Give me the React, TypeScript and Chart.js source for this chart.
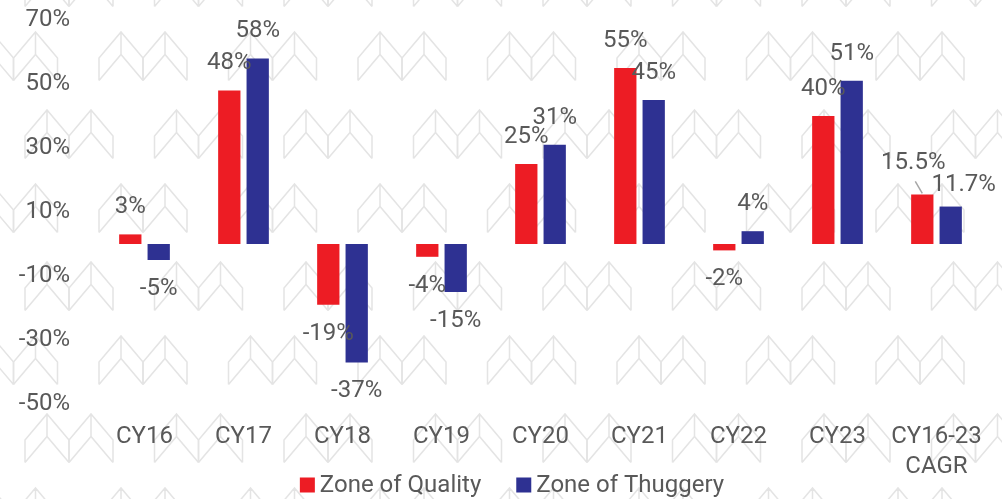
import React, { useEffect, useRef } from "react";
import { Chart, registerables } from "chart.js";

Chart.register(...registerables);

const categories: (string | string[])[] = ["CY16", "CY17", "CY18", "CY19", "CY20", "CY21", "CY22", "CY23", ["CY16-23", "CAGR"]];
const qualityValues = [3, 48, -19, -4, 25, 55, -2, 40, 15.5];
const thuggeryValues = [-5, 58, -37, -15, 31, 45, 4, 51, 11.7];
const qualityLabels = ["3%", "48%", "-19%", "-4%", "25%", "55%", "-2%", "40%", "15.5%"];
const thuggeryLabels = ["-5%", "58%", "-37%", "-15%", "31%", "45%", "4%", "51%", "11.7%"];
const seriesNames = ["Zone of Quality", "Zone of Thuggery"];
const yTicks = [-50, -30, -10, 10, 30, 50, 70];

const RED = "#ED1C24";
const BLUE = "#2E3192";
const TEXT = "#595959";
const FONT = "Roboto";

const watermarkPlugin = {
  id: "watermark",
  beforeDraw(chart: any) {
    const ctx = chart.ctx;
    const W = chart.width;
    const H = chart.height;
    ctx.save();
    ctx.fillStyle = "#ffffff";
    ctx.fillRect(0, 0, W, H);
    ctx.strokeStyle = "#e4e4e4";
    ctx.lineWidth = 1.5;
    const w = 22, h1 = 26, t = 22.5;
    const chevron = (px: number, py: number) => {
      ctx.beginPath();
      ctx.moveTo(px - w, py + h1 + t);
      ctx.lineTo(px - w, py + h1);
      ctx.lineTo(px, py);
      ctx.lineTo(px + w, py + h1);
      ctx.lineTo(px + w, py + h1 + t);
      ctx.moveTo(px - w, py + h1 + t);
      ctx.lineTo(px, py + t);
      ctx.lineTo(px + w, py + h1 + t);
      ctx.moveTo(px, py);
      ctx.lineTo(px, py + t);
      ctx.stroke();
    };
    const periodX = 129.5;
    const periodY = 152;
    for (let k = -1; k <= 4; k++) {
      const yB = 32 + periodY * k;
      const yA = 110 + periodY * k;
      for (let i = -1; i <= 8; i++) {
        const xB = 121 + periodX * i;
        chevron(xB, yB);
        chevron(xB + 44, yB);
        const xA = 47 + periodX * i;
        chevron(xA, yA);
        chevron(xA + 44, yA);
      }
    }
    ctx.restore();
  },
};

const labelPlugin = {
  id: "barLabels",
  afterDatasetsDraw(chart: any) {
    const ctx = chart.ctx;
    const labelSets = [qualityLabels, thuggeryLabels];
    const special: Record<string, { dx: number; dy: number }> = {
      "0-8": { dx: -9, dy: -31 },
      "1-8": { dx: 13, dy: -21.5 },
    };
    ctx.save();
    ctx.font = `24px ${FONT}`;
    ctx.fillStyle = TEXT;
    ctx.textAlign = "center";
    ctx.textBaseline = "middle";
    chart.data.datasets.forEach((ds: any, di: number) => {
      const meta = chart.getDatasetMeta(di);
      meta.data.forEach((bar: any, i: number) => {
        const v = ds.data[i];
        const sp = special[`${di}-${i}`];
        let x = bar.x;
        let y = v >= 0 ? bar.y - 27 : bar.y + 29;
        if (sp) {
          x = bar.x + sp.dx;
          y = bar.y + sp.dy;
        }
        ctx.fillText(labelSets[di][i], x, y);
        if (di === 0 && i === 8) {
          ctx.strokeStyle = "#a6a6a6";
          ctx.lineWidth = 1.5;
          ctx.beginPath();
          ctx.moveTo(bar.x - 7, bar.y - 13);
          ctx.lineTo(bar.x, bar.y - 1);
          ctx.stroke();
        }
      });
    });
    ctx.restore();
  },
};

const legendPlugin = {
  id: "customLegend",
  afterDraw(chart: any) {
    const ctx = chart.ctx;
    ctx.save();
    ctx.font = `24px ${FONT}`;
    ctx.textBaseline = "middle";
    ctx.textAlign = "left";
    const box = 15;
    const gapText = 5;
    const gapItem = 35;
    const items = chart.data.datasets.map((ds: any) => ({
      label: ds.label,
      color: ds.backgroundColor,
      tw: ctx.measureText(ds.label).width,
    }));
    const total = items.reduce((s: number, it: any) => s + box + gapText + it.tw, 0) + gapItem * (items.length - 1);
    let x = 512 - total / 2;
    const cy = 485;
    items.forEach((it: any) => {
      ctx.fillStyle = it.color;
      ctx.fillRect(x, cy - 7.5, box, box);
      ctx.fillStyle = TEXT;
      ctx.fillText(it.label, x + box + gapText, cy + 1);
      x += box + gapText + it.tw + gapItem;
    });
    ctx.restore();
  },
};

export default function App() {
  const canvasRef = useRef<HTMLCanvasElement | null>(null);

  useEffect(() => {
    document.body.style.margin = "0";
    const canvas = canvasRef.current;
    if (!canvas) return;
    const chart = new Chart(canvas, {
      type: "bar",
      data: {
        labels: categories,
        datasets: [
          {
            label: seriesNames[0],
            data: qualityValues,
            backgroundColor: RED,
            categoryPercentage: 0.574,
            barPercentage: 0.785,
          },
          {
            label: seriesNames[1],
            data: thuggeryValues,
            backgroundColor: BLUE,
            categoryPercentage: 0.574,
            barPercentage: 0.785,
          },
        ],
      },
      options: {
        animation: false,
        responsive: false,
        maintainAspectRatio: false,
        devicePixelRatio: 1,
        layout: { padding: { top: 20, right: 16, left: 0, bottom: 0 } },
        plugins: {
          legend: { display: false },
          tooltip: { enabled: false },
        },
        scales: {
          x: {
            grid: { display: false, drawTicks: false },
            border: { display: false },
            ticks: {
              color: TEXT,
              font: { family: FONT, size: 24, lineHeight: 1.25 },
              padding: 18,
              maxRotation: 0,
              autoSkip: false,
            },
            afterFit(scale: any) {
              scale.height = 95;
              scale.paddingLeft = 0;
              scale.paddingRight = 0;
              scale.paddingTop = 0;
              scale.paddingBottom = 0;
            },
          },
          y: {
            min: -50,
            max: 70,
            afterBuildTicks(scale: any) {
              scale.ticks = yTicks.map((v) => ({ value: v }));
            },
            grid: {
              drawTicks: false,
              color: (c: any) => (c.tick && c.tick.value === 0 ? "#d9d9d9" : "rgba(0,0,0,0)"),
              lineWidth: 2,
            },
            border: { display: false },
            ticks: {
              color: TEXT,
              font: { family: FONT, size: 24 },
              padding: 25,
              callback: (v: any) => `${v}%`,
            },
            afterFit(scale: any) {
              scale.width = 95;
              scale.paddingTop = 0;
              scale.paddingBottom = 0;
              scale.paddingLeft = 0;
              scale.paddingRight = 0;
            },
          },
        },
      },
      plugins: [watermarkPlugin, labelPlugin, legendPlugin],
    });
    return () => chart.destroy();
  }, []);

  return (
    <div style={{ width: 1002, height: 499 }}>
      <canvas ref={canvasRef} width={1002} height={499} style={{ width: 1002, height: 499, display: "block" }} />
    </div>
  );
}
